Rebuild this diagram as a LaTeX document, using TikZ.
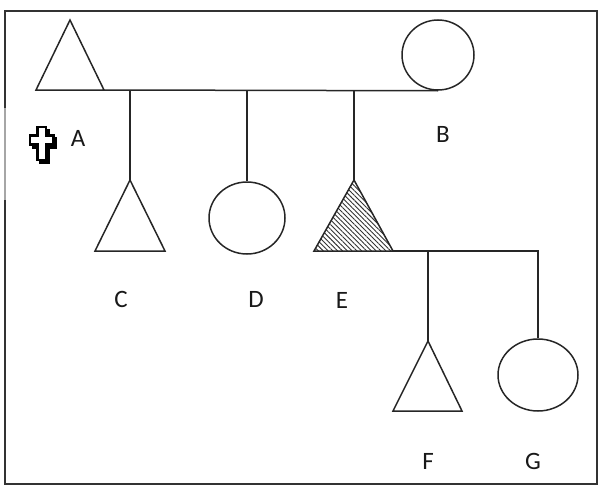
\documentclass[tikz,border=0pt]{standalone}
\usepackage{fontspec}
\setmainfont{Carlito}
\usetikzlibrary{shapes.geometric,patterns.meta}
\tikzset{
  shp/.style={draw=black!85, line width=1.5pt},
  link/.style={draw=black!85, line width=1.5pt},
  circ/.style={ellipse, draw=black!85, line width=1.5pt, inner sep=0pt},
  lbl/.style={font=\fontsize{25}{30}\selectfont, text=black!90, inner sep=0pt},
}
\begin{document}
\begin{tikzpicture}[x=1pt,y=-1pt]
\useasboundingbox (0,0) rectangle (604,495);
% border
\draw[line width=1.6pt, black!80] (5,108) -- (5,11) -- (597,11) -- (597,484) -- (5,484) -- (5,200);
\draw[line width=1.6pt, black!35] (5,108) -- (5,200);

% A triangle
\coordinate (Aap) at (70,20);
\coordinate (Abl) at (36,90);
\coordinate (Abr) at (104,90);
\draw[shp] (Aap) -- (Abl) -- (Abr) -- cycle;
% B circle
\node[circ, minimum width=72pt, minimum height=70pt] (B) at (438,55) {};
% marriage line
\draw[link] (Abr) -- (B.south);
% drop points
\coordinate (dC) at (130,90);
\coordinate (dD) at (247,90);
\coordinate (dE) at (354,90);

% C triangle
\coordinate (Cap) at (130,180);
\coordinate (Cbl) at (95,251);
\coordinate (Cbr) at (165,251);
\draw[shp] (Cap) -- (Cbl) -- (Cbr) -- cycle;
\draw[link] (dC) -- (Cap);

% D circle
\node[circ, minimum width=76pt, minimum height=72pt] (D) at (247,218) {};
\draw[link] (dD) -- (D.north);

% E triangle (hatched)
\coordinate (Eap) at (354,180);
\coordinate (Ebl) at (314,251);
\coordinate (Ebr) at (393,251);
\path[pattern={Lines[angle=-45,distance=3.4pt,line width=0.9pt]}, pattern color=black!80] (Eap) -- (Ebl) -- (Ebr) -- cycle;
\draw[shp] (Eap) -- (Ebl) -- (Ebr) -- cycle;
\draw[link] (dE) -- (Eap);

% E's line
\coordinate (dF) at (428,251);
\coordinate (cG) at (538,251);
\node[circ, minimum width=80pt, minimum height=72pt] (G) at (538,375) {};
\draw[link] (Ebr) -- (cG) -- (G.north);

% F triangle
\coordinate (Fap) at (428,341);
\coordinate (Fbl) at (393,411);
\coordinate (Fbr) at (462,411);
\draw[shp] (Fap) -- (Fbl) -- (Fbr) -- cycle;
\draw[link] (dF) -- (Fap);

% cross (deceased)
\begin{scope}[shift={(2.6,3)}]
\fill[black, draw=black, line width=2.2pt] (37.5,127) -- (46,127) -- (46,135.5) -- (53.5,135.5) -- (53.5,144.5) -- (46,144.5) -- (46,160) -- (37.5,160) -- (37.5,144.5) -- (30,144.5) -- (30,135.5) -- (37.5,135.5) -- cycle;
\end{scope}
\filldraw[fill=white, draw=black, line width=2.2pt] (37.5,127) -- (46,127) -- (46,135.5) -- (53.5,135.5) -- (53.5,144.5) -- (46,144.5) -- (46,160) -- (37.5,160) -- (37.5,144.5) -- (30,144.5) -- (30,135.5) -- (37.5,135.5) -- cycle;

% labels
\node[lbl] (lA) at (78,138) {A};
\node[lbl] (lB) at (443,134) {B};
\node[lbl] (lC) at (121,299) {C};
\node[lbl] (lD) at (256,299) {D};
\node[lbl] (lE) at (342,300) {E};
\node[lbl] (lF) at (428,461) {F};
\node[lbl] (lG) at (533,461) {G};
\end{tikzpicture}
\end{document}
